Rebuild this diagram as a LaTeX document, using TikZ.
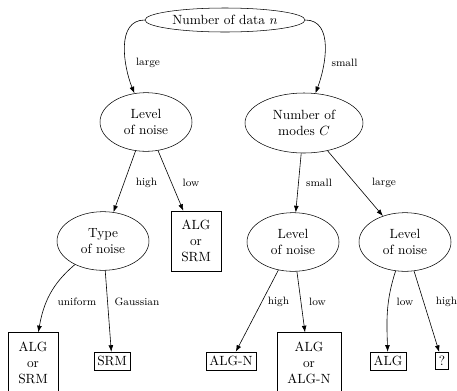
\documentclass[tikz,border=0pt]{standalone}
\usetikzlibrary{arrows.meta,shapes.geometric}
\begin{document}
\begin{tikzpicture}[x=0.75pt,y=-0.75pt,
  decision/.style={draw,ellipse,inner sep=0pt,minimum width=69pt,minimum height=44pt,align=center,font=\normalsize},
  leaf/.style={draw,rectangle,inner xsep=2.6pt,inner ysep=3pt,font=\normalsize},
  multileaf/.style={draw,rectangle,align=center,inner xsep=7.7pt,inner ysep=6.7pt,font=\normalsize},
  lbl/.style={font=\footnotesize,inner sep=0pt},
  arr/.style={-{Latex[length=5pt,width=3.6pt]},line width=0.45pt}]
\useasboundingbox (0,0) rectangle (457,390);
% nodes
\node[decision,minimum width=120pt,minimum height=18pt] (root) at (225,20) {Number of data $n$};
\node[decision] (lvlA) at (146,122) {Level\\of noise};
\node[decision,minimum width=88.5pt,minimum height=45pt] (modes) at (304,123) {Number of\\modes $C$};
\node[decision] (type) at (103,241) {Type\\of noise};
\node[multileaf] (boxA) at (196,241) {ALG\\or\\SRM};
\node[decision] (lvlB) at (293,242) {Level\\of noise};
\node[decision] (lvlC) at (405,242) {Level\\of noise};
\node[multileaf] (boxB) at (33,362.5) {ALG\\or\\SRM};
\node[leaf] (srm) at (112,361) {SRM};
\node[leaf] (algn) at (231,361) {ALG-N};
\node[multileaf] (boxC) at (309,362.5) {ALG\\or\\ALG-N};
\node[leaf] (alg) at (388,361) {ALG};
\node[leaf] (q) at (442,361) {?};
% connectors
\draw[arr] (root.west) to[out=180,in=112] (lvlA);
\draw[arr] (root.east) to[out=0,in=69] (modes);
\draw[arr] (lvlA) -- (type);
\draw[arr] (lvlA) -- (boxA);
\draw[arr] (type) to[out=-140,in=80] (boxB);
\draw[arr] (type) -- (srm);
\draw[arr] (modes) -- (lvlB);
\draw[arr] (modes) -- (lvlC);
\draw[arr] (lvlB) -- (algn);
\draw[arr] (lvlB) -- (boxC);
\draw[arr] (lvlC) to[out=-108,in=92] (alg);
\draw[arr] (lvlC) -- (q);
% labels
\node[lbl] (l1) at (148,63) {large};
\node[lbl] (l2) at (344.5,63) {small};
\node[lbl] (l3) at (146.5,183) {high};
\node[lbl] (l4) at (191,183) {low};
\node[lbl] (l5) at (77,302) {uniform};
\node[lbl] (l6) at (137,302) {Gaussian};
\node[lbl] (l7) at (319,183) {small};
\node[lbl] (l8) at (384,183) {large};
\node[lbl] (l9) at (278.5,302) {high};
\node[lbl] (l10) at (317.5,302) {low};
\node[lbl] (l11) at (405,302) {low};
\node[lbl] (l12) at (446.5,302) {high};
\end{tikzpicture}
\end{document}
